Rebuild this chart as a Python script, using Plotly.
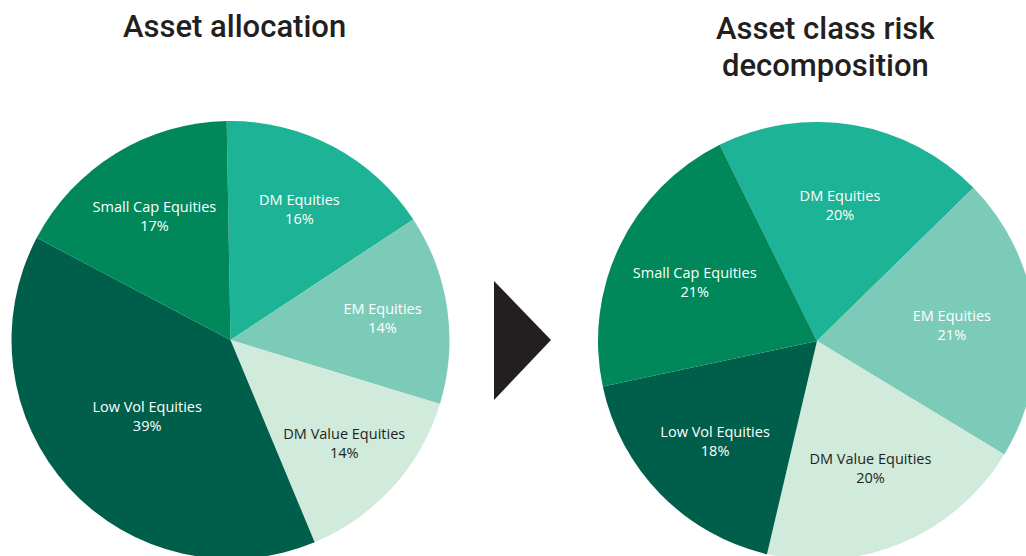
import plotly.graph_objects as go

# ---- data ----
slice_labels = ["DM Equities", "EM Equities", "DM Value Equities", "Low Vol Equities", "Small Cap Equities"]
alloc_values = [16, 14, 14, 39, 17]
risk_values = [20, 21, 20, 18, 21]
titles = ["Asset allocation", "Asset class risk", "decomposition"]

# ---- styles ----
slice_colors = ["#1DB396", "#7CCBB9", "#D0EADB", "#005F4B", "#00885A"]
text_colors = ["#FFFFFF", "#FFFFFF", "#231F20", "#FFFFFF", "#FFFFFF"]
# figure is slightly larger than the 1026x556 window so the pies run off the edges
W, H = 1040, 568
label_font = "Open Sans"
title_font = "Roboto"

fig = go.Figure()

def add_pie(values, cx, cy, r, rotation):
    fig.add_trace(go.Pie(
        labels=slice_labels,
        values=values,
        sort=False,
        direction="clockwise",
        rotation=rotation,
        marker=dict(colors=slice_colors, line=dict(width=0)),
        texttemplate="%{label}<br>%{value}%",
        textposition="inside",
        insidetextorientation="horizontal",
        insidetextfont=dict(family=label_font, size=14.5, color=text_colors, weight=500),
        hoverinfo="skip",
        showlegend=False,
        domain=dict(x=[(cx - r) / W, (cx + r) / W],
                    y=[(H - cy - r) / H, (H - cy + r) / H]),
    ))

add_pie(alloc_values, 230.5, 340, 219, -1)
add_pie(risk_values, 817, 341, 219, -26.4)

def add_title(text, x, y):
    fig.add_annotation(text=text, x=x / W, y=1 - y / H, xref="paper", yref="paper",
                       showarrow=False, xanchor="center", yanchor="middle",
                       font=dict(family=title_font, size=31, color="#231F20", weight=500))

add_title(titles[0], 234, 26)
add_title(titles[1], 825.5, 28)
add_title(titles[2], 825.5, 65)

# arrow between the two pies
ax0, ax1 = 494 / W, 551 / W
ay0, ay1, ay2 = 1 - 281 / H, 1 - 340 / H, 1 - 400 / H
fig.add_shape(type="path", xref="paper", yref="paper",
              path=f"M {ax0},{ay0} L {ax1},{ay1} L {ax0},{ay2} Z",
              fillcolor="#231F20", line=dict(width=0))

fig.update_layout(
    width=W, height=H,
    margin=dict(l=0, r=0, t=0, b=0),
    paper_bgcolor="white", plot_bgcolor="white",
    uniformtext=dict(minsize=14.5, mode="show"),
    showlegend=False,
)

page_js = ("document.documentElement.style.overflow='hidden';"
           "document.body.style.margin='0';"
           "document.body.style.overflow='hidden';")
fig.write_html("out.html", post_script=page_js, config={"displayModeBar": False})
